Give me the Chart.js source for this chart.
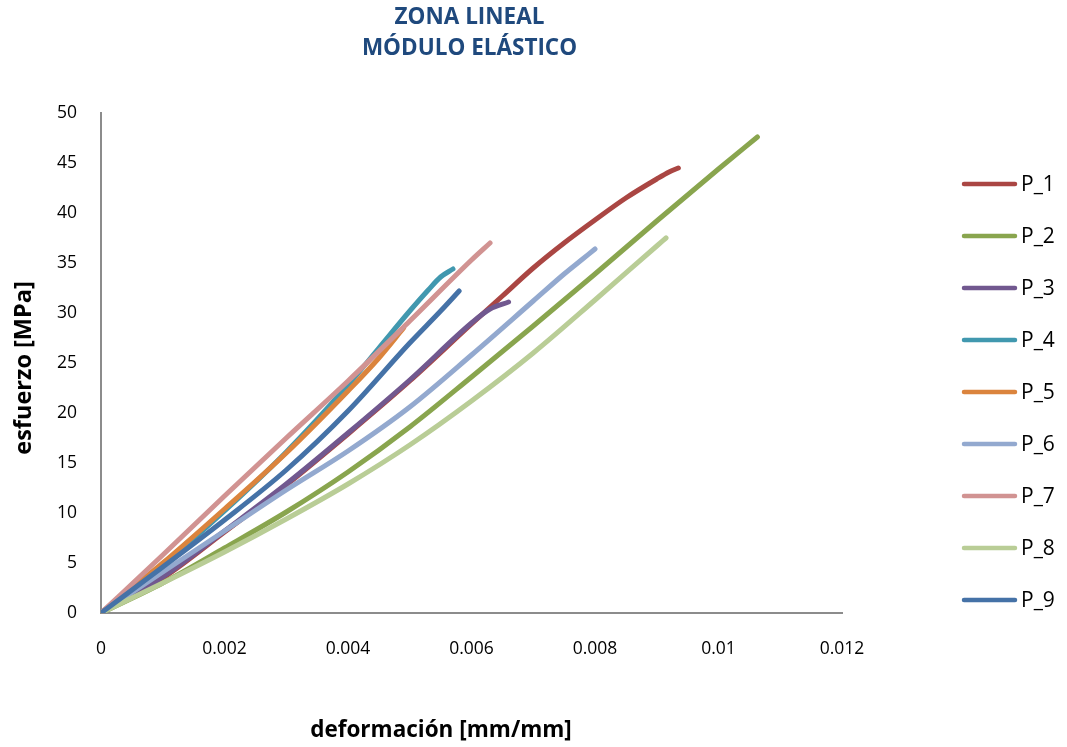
<!DOCTYPE html>
<html lang="es">
<head>
<meta charset="UTF-8" />
<title>Zona lineal - Módulo elástico</title>
<script src="https://cdn.jsdelivr.net/npm/chart.js"></script>
<style>
  body { margin: 0; background: #fff; }
  #wrap { width: 1067px; height: 747px; }
</style>
</head>
<body>
<div id="wrap"><canvas id="chart" width="1067" height="747"></canvas></div>
<script>
// --- data (deformación [mm/mm], esfuerzo [MPa]) ---
const seriesNames = ["P_1", "P_2", "P_3", "P_4", "P_5", "P_6", "P_7", "P_8", "P_9"];

const p1 = [[0,0],[0.001,3.5],[0.002,8.1],[0.003,12.8],[0.004,17.9],[0.005,23.2],[0.006,28.9],[0.0065,31.7],[0.007,34.5],[0.0075,37.0],[0.008,39.3],[0.0085,41.5],[0.009,43.4],[0.0092,44.1],[0.00935,44.5]];
const p2 = [[0,0],[0.001,3.0],[0.002,6.5],[0.003,10.1],[0.004,14.1],[0.005,18.6],[0.006,23.6],[0.007,28.7],[0.008,33.9],[0.009,39.2],[0.010,44.4],[0.01063,47.6]];
const p3 = [[0,0],[0.001,3.6],[0.002,8.2],[0.003,12.9],[0.004,18.0],[0.005,23.3],[0.006,29.0],[0.0063,30.4],[0.0066,31.1]];
const p4 = [[0,0],[0.001,4.8],[0.002,10.2],[0.003,16.1],[0.004,22.8],[0.0045,26.5],[0.005,30.2],[0.0053,32.3],[0.0055,33.6],[0.0057,34.4]];
const p5 = [[0,0],[0.001,5.0],[0.002,10.4],[0.003,16.0],[0.004,22.2],[0.0045,25.5],[0.0049,28.5]];
const p6 = [[0,0],[0.001,4.1],[0.002,8.2],[0.003,12.3],[0.004,16.2],[0.005,20.6],[0.006,25.8],[0.007,31.2],[0.0075,33.9],[0.0078,35.4],[0.008,36.4]];
const p7 = [[0,0],[0.001,5.8],[0.002,11.7],[0.003,17.5],[0.004,23.2],[0.005,29.2],[0.006,35.3],[0.0063,37.0]];
const p8 = [[0,0],[0.001,3.0],[0.002,6.1],[0.003,9.4],[0.004,12.9],[0.005,16.8],[0.006,21.2],[0.007,26.0],[0.008,31.3],[0.009,36.7],[0.00915,37.5]];
const p9 = [[0,0],[0.001,4.6],[0.002,9.3],[0.003,14.3],[0.004,20.2],[0.005,27.0],[0.0055,30.2],[0.0058,32.2]];

const xTickValues = [0, 0.002, 0.004, 0.006, 0.008, 0.01, 0.012];
const yTickValues = [0, 5, 10, 15, 20, 25, 30, 35, 40, 45, 50];

const colors = ["#AA4643", "#89A54E", "#71588F", "#4198AF", "#DB843D", "#93A9CF", "#D19392", "#B9CD96", "#4572A7"];

const allSeries = [p1, p2, p3, p4, p5, p6, p7, p8, p9];
const FONT = "'Open Sans', 'Liberation Sans', sans-serif";

// titles, axis titles and legend drawn at the spots used by the reference
const decorations = {
  id: "decorations",
  afterDraw(chart) {
    const { ctx, chartArea } = chart;
    const cx = (chartArea.left + chartArea.right) / 2;
    ctx.save();
    ctx.textAlign = "center";
    ctx.textBaseline = "middle";
    ctx.fillStyle = "#1F497D";
    ctx.font = "bold 22.5px " + FONT;
    ctx.fillText("ZONA LINEAL", cx - 2, 18);
    ctx.fillText("MÓDULO ELÁSTICO", cx - 2, 49);

    ctx.fillStyle = "#000";
    ctx.font = "bold 22.5px " + FONT;
    ctx.fillText("deformación [mm/mm]", 441, 731);
    ctx.translate(24, 368);
    ctx.rotate(-Math.PI / 2);
    ctx.font = "bold 23.5px " + FONT;
    ctx.fillText("esfuerzo [MPa]", 0, 0);
    ctx.restore();

    // legend
    ctx.save();
    ctx.lineCap = "round";
    ctx.lineWidth = 4.5;
    ctx.font = "21px " + FONT;
    ctx.textAlign = "left";
    ctx.textBaseline = "middle";
    chart.data.datasets.forEach((ds, i) => {
      const y = 184 + 52 * i;
      ctx.strokeStyle = ds.borderColor;
      ctx.beginPath();
      ctx.moveTo(964, y);
      ctx.lineTo(1015, y);
      ctx.stroke();
      ctx.fillStyle = "#000";
      ctx.fillText(ds.label, 1021, y + 1);
    });
    ctx.restore();
  }
};

new Chart(document.getElementById("chart"), {
  type: "scatter",
  data: {
    datasets: allSeries.map((pts, i) => ({
      label: seriesNames[i],
      data: pts.map(([x, y]) => ({ x, y })),
      showLine: true,
      borderColor: colors[i],
      backgroundColor: colors[i],
      borderWidth: 5,
      borderCapStyle: "round",
      borderJoinStyle: "round",
      pointRadius: 0,
      pointHoverRadius: 0,
      cubicInterpolationMode: "monotone",
      order: allSeries.length - i
    }))
  },
  options: {
    responsive: false,
    animation: false,
    layout: { padding: { top: 113, right: 225, bottom: 0, left: 0 } },
    plugins: {
      legend: { display: false },
      title: { display: false },
      tooltip: { enabled: false }
    },
    scales: {
      x: {
        type: "linear",
        min: 0,
        max: 0.012,
        afterFit: (s) => { s.height = 134; },
        afterBuildTicks: (s) => { s.ticks = xTickValues.map(v => ({ value: v })); },
        grid: { display: false, drawTicks: false },
        border: { display: true, color: "#8C8C8C", width: 2 },
        ticks: {
          padding: 26,
          color: "#000",
          font: { family: FONT, size: 17.5 },
          maxRotation: 0,
          callback: (v) => String(+v.toFixed(4))
        }
      },
      y: {
        type: "linear",
        min: 0,
        max: 50,
        afterFit: (s) => { s.width = 101; },
        afterBuildTicks: (s) => { s.ticks = yTickValues.map(v => ({ value: v })); },
        grid: { display: false, drawTicks: false },
        border: { display: true, color: "#8C8C8C", width: 2 },
        ticks: {
          padding: 24,
          color: "#000",
          font: { family: FONT, size: 17.5 }
        }
      }
    }
  },
  plugins: [decorations]
});
</script>
</body>
</html>
